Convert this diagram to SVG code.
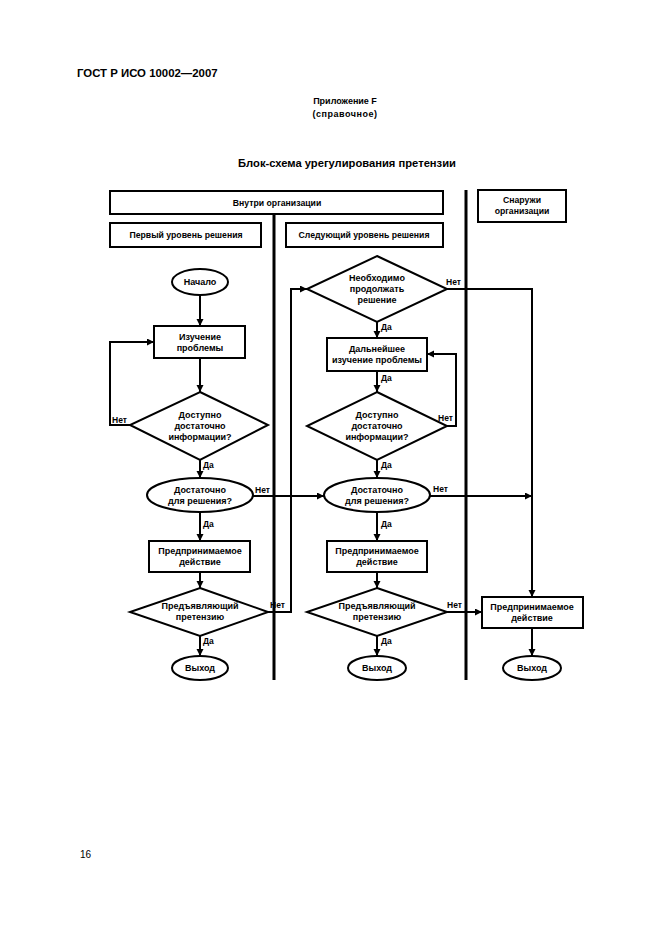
<svg xmlns="http://www.w3.org/2000/svg" width="661" height="936" viewBox="0 0 661 936">
<defs>
<marker id="ah" markerUnits="userSpaceOnUse" markerWidth="8" markerHeight="8" refX="7" refY="3.5" orient="auto">
<path d="M0,0 L7,3.5 L0,7 Z" fill="#000"/>
</marker>
</defs>
<style>
text{font-family:"Liberation Sans",Arial,sans-serif;fill:#000}
.t{font-size:9px;font-weight:bold;text-anchor:middle}
.h{font-size:8.7px;font-weight:bold;text-anchor:middle}
.l{font-size:8.5px;font-weight:bold}
.sh{fill:#fff;stroke:#000;stroke-width:2}
.c{fill:none;stroke:#000;stroke-width:2}
.lane{stroke:#000;stroke-width:3}
</style>
<rect width="661" height="936" fill="#fff"/>
<text x="77" y="77" style="font-size:11.4px;font-weight:bold">ГОСТ Р ИСО 10002—2007</text>
<text x="345" y="104" class="t" style="font-size:9px">Приложение F</text>
<text x="345" y="117" class="t" style="font-size:9px;letter-spacing:0.5px">(справочное)</text>
<text x="347" y="167" class="t" style="font-size:11.2px">Блок-схема урегулирования претензии</text>
<text x="80" y="858" style="font-size:10px">16</text>

<g id="lanes">
<line class="lane" x1="274" y1="215" x2="274" y2="680"/>
<line class="lane" x1="466" y1="190" x2="466" y2="680"/>
</g>
<g id="hdr-inside"><rect class="sh" x="110" y="191" width="333" height="23"/><text class="h" x="277" y="206">Внутри организации</text></g>
<g id="hdr-outside"><rect class="sh" x="478" y="190" width="88" height="32"/><text class="h" x="522" y="203">Снаружи</text><text class="h" x="522" y="214">организации</text></g>
<g id="hdr-first"><rect class="sh" x="110" y="223" width="151" height="24"/><text class="h" x="186" y="238">Первый уровень решения</text></g>
<g id="hdr-next"><rect class="sh" x="286" y="223" width="157" height="24"/><text class="h" x="364" y="238">Следующий уровень решения</text></g>

<g id="connectors">
<path class="c" marker-end="url(#ah)" d="M200,295 V326"/>
<path class="c" marker-end="url(#ah)" d="M200,358 V392"/>
<path class="c" marker-end="url(#ah)" d="M130,425 H110 V342 H154"/>
<path class="c" marker-end="url(#ah)" d="M200,460 V478"/>
<path class="c" marker-end="url(#ah)" d="M253,496 H324"/>
<path class="c" marker-end="url(#ah)" d="M200,513 V541"/>
<path class="c" marker-end="url(#ah)" d="M200,572 V588"/>
<path class="c" marker-end="url(#ah)" d="M268,612 H291 V289 H307"/>
<path class="c" marker-end="url(#ah)" d="M200,636 V656"/>
<path class="c" marker-end="url(#ah)" d="M377,322 V338"/>
<path class="c" marker-end="url(#ah)" d="M447,289 H532 V597"/>
<path class="c" marker-end="url(#ah)" d="M377,371 V392"/>
<path class="c" marker-end="url(#ah)" d="M447,426 H456 V354 H427"/>
<path class="c" marker-end="url(#ah)" d="M377,460 V478"/>
<path class="c" marker-end="url(#ah)" d="M430,496 H532"/>
<path class="c" marker-end="url(#ah)" d="M377,513 V541"/>
<path class="c" marker-end="url(#ah)" d="M377,572 V588"/>
<path class="c" marker-end="url(#ah)" d="M447,612 H482"/>
<path class="c" marker-end="url(#ah)" d="M377,636 V656"/>
<path class="c" marker-end="url(#ah)" d="M532,628 V656"/>
<text class="l" x="112" y="423">Нет</text>
<text class="l" x="203" y="468">Да</text>
<text class="l" x="255" y="493">Нет</text>
<text class="l" x="203" y="527">Да</text>
<text class="l" x="270" y="608">Нет</text>
<text class="l" x="203" y="644">Да</text>
<text class="l" x="446" y="285">Нет</text>
<text class="l" x="381" y="330">Да</text>
<text class="l" x="381" y="381">Да</text>
<text class="l" x="438" y="421">Нет</text>
<text class="l" x="381" y="468">Да</text>
<text class="l" x="433" y="492">Нет</text>
<text class="l" x="381" y="527">Да</text>
<text class="l" x="447" y="608">Нет</text>
<text class="l" x="381" y="644">Да</text>
</g>

<g id="start"><ellipse class="sh" cx="200" cy="282" rx="28" ry="13"/><text class="t" x="200" y="285">Начало</text></g>
<g id="study"><rect class="sh" x="154" y="326" width="91" height="32"/><text class="t" x="200" y="340">Изучение</text><text class="t" x="200" y="351">проблемы</text></g>
<g id="info1"><polygon class="sh" points="200,392 268,425 200,460 130,425"/><text class="t" x="200" y="418">Доступно</text><text class="t" x="200" y="429">достаточно</text><text class="t" x="200" y="440">информации?</text></g>
<g id="enough1"><ellipse class="sh" cx="200" cy="495" rx="53" ry="17"/><text class="t" x="200" y="493">Достаточно</text><text class="t" x="200" y="504">для решения?</text></g>
<g id="action1"><rect class="sh" x="149" y="541" width="101" height="31"/><text class="t" x="200" y="554">Предпринимаемое</text><text class="t" x="200" y="565">действие</text></g>
<g id="claim1"><polygon class="sh" points="200,588 268,612 200,636 130,612"/><text class="t" x="200" y="609">Предъявляющий</text><text class="t" x="200" y="620">претензию</text></g>
<g id="exit1"><ellipse class="sh" cx="200" cy="668" rx="28" ry="12"/><text class="t" x="200" y="671">Выход</text></g>

<g id="continue"><polygon class="sh" points="377,256 447,289 377,322 307,289"/><text class="t" x="377" y="281">Необходимо</text><text class="t" x="377" y="292">продолжать</text><text class="t" x="377" y="303">решение</text></g>
<g id="study2"><rect class="sh" x="327" y="338" width="100" height="33"/><text class="t" x="377" y="352">Дальнейшее</text><text class="t" x="377" y="363">изучение проблемы</text></g>
<g id="info2"><polygon class="sh" points="377,392 447,426 377,460 307,426"/><text class="t" x="377" y="418">Доступно</text><text class="t" x="377" y="429">достаточно</text><text class="t" x="377" y="440">информации?</text></g>
<g id="enough2"><ellipse class="sh" cx="377" cy="495" rx="53" ry="17"/><text class="t" x="377" y="493">Достаточно</text><text class="t" x="377" y="504">для решения?</text></g>
<g id="action2"><rect class="sh" x="327" y="541" width="100" height="31"/><text class="t" x="377" y="554">Предпринимаемое</text><text class="t" x="377" y="565">действие</text></g>
<g id="claim2"><polygon class="sh" points="377,588 447,612 377,636 307,612"/><text class="t" x="377" y="609">Предъявляющий</text><text class="t" x="377" y="620">претензию</text></g>
<g id="exit2"><ellipse class="sh" cx="377" cy="668" rx="29" ry="12"/><text class="t" x="377" y="671">Выход</text></g>

<g id="action3"><rect class="sh" x="482" y="597" width="101" height="31"/><text class="t" x="532" y="610">Предпринимаемое</text><text class="t" x="532" y="621">действие</text></g>
<g id="exit3"><ellipse class="sh" cx="532" cy="668" rx="29" ry="12"/><text class="t" x="532" y="671">Выход</text></g>
</svg>
